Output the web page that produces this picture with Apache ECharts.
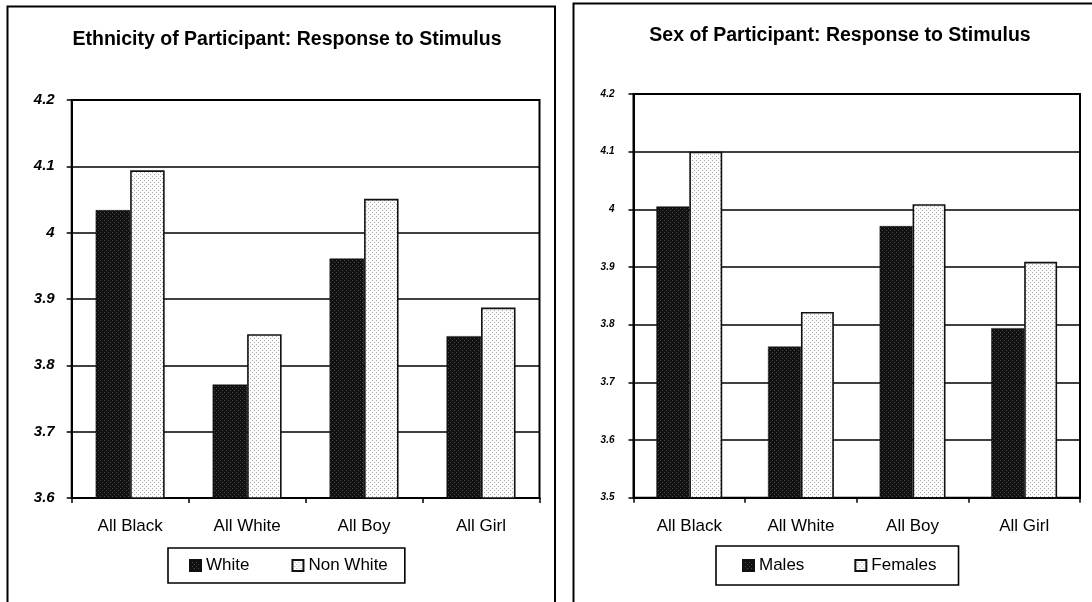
<!DOCTYPE html>
<html>
<head>
<meta charset="utf-8">
<script src="https://cdn.jsdelivr.net/npm/echarts@6/dist/echarts.min.js"></script>
<style>
  html, body { margin: 0; padding: 0; background: #fff; }
  #chart { width: 1092px; height: 602px; }
</style>
</head>
<body>
<div id="chart"></div>
<script>
// Categories shared by both panels
const categories = ['All Black', 'All White', 'All Boy', 'All Girl'];

// Ethnicity panel: mean response
const ethnicityWhite = [4.034, 3.771, 3.961, 3.844];
const ethnicityNonWhite = [4.094, 3.847, 4.051, 3.887];

// Sex panel: mean response
const sexMales = [4.005, 3.762, 3.971, 3.794];
const sexFemales = [4.100, 3.822, 4.009, 3.909];

// Value axis ranges
const ethnicityAxis = { min: 3.6, max: 4.2, interval: 0.1 };
const sexAxis = { min: 3.5, max: 4.2, interval: 0.1 };

// Stippled fills for the bars
function stipple(bg, dot) {
  const c = document.createElement('canvas');
  c.width = 4; c.height = 4;
  const g = c.getContext('2d');
  g.fillStyle = bg; g.fillRect(0, 0, 4, 4);
  g.fillStyle = dot;
  g.fillRect(0, 0, 1, 1);
  g.fillRect(2, 2, 1, 1);
  return { image: c, repeat: 'repeat' };
}
const darkFill = stipple('#111', '#4a4a4a');
const lightFill = stipple('#fcfcfc', '#a8a8a8');

const FONT = '"Liberation Sans", Arial, sans-serif';

const fmt = v => String(+(+v).toFixed(1));

function yAxisCfg(range, gridIndex, labelSize, margin) {
  return {
    type: 'value', gridIndex,
    min: range.min, max: range.max, interval: range.interval,
    axisLine: { show: true, lineStyle: { color: '#000', width: 2 } },
    axisTick: { show: true, length: 5, lineStyle: { color: '#000', width: 1.5 } },
    splitLine: { show: true, lineStyle: { color: '#000', width: 1.6 } },
    axisLabel: {
      formatter: fmt, margin,
      fontFamily: FONT, fontSize: labelSize, fontWeight: 'bold', fontStyle: 'italic', color: '#000'
    }
  };
}
function xAxisCfg(gridIndex) {
  return {
    type: 'category', gridIndex, data: categories,
    axisLine: { show: true, lineStyle: { color: '#000', width: 2 } },
    axisTick: { show: true, length: 5, lineStyle: { color: '#000', width: 1.5 } },
    axisLabel: { margin: 20, fontFamily: FONT, fontSize: 17, color: '#000' }
  };
}
function barSeries(name, data, idx, dark) {
  return {
    type: 'bar', name, data, xAxisIndex: idx, yAxisIndex: idx,
    barGap: '0%', barCategoryGap: '41%',
    itemStyle: dark
      ? { color: darkFill, borderColor: '#111', borderWidth: 0.5 }
      : { color: lightFill, borderColor: '#111', borderWidth: 1.6 }
  };
}
function legendCfg(names, left, top, padding, gap) {
  return {
    data: names, left, top, orient: 'horizontal', icon: 'rect',
    padding, itemGap: gap, itemWidth: 11, itemHeight: 11,
    borderColor: '#000', borderWidth: 1.6, borderRadius: 0,
    textStyle: { fontFamily: FONT, fontSize: 17, color: '#000' },
    selectedMode: false
  };
}

const chart = echarts.init(document.getElementById('chart'), null, { renderer: 'canvas' });
chart.setOption({
  animation: false,
  backgroundColor: '#fff',
  title: [
    { text: 'Ethnicity of Participant: Response to Stimulus', left: 282, top: 25, textAlign: 'center',
      textStyle: { fontFamily: FONT, fontSize: 19.5, fontWeight: 'bold', color: '#000' } },
    { text: 'Sex of Participant: Response to Stimulus', left: 835, top: 21, textAlign: 'center',
      textStyle: { fontFamily: FONT, fontSize: 19.5, fontWeight: 'bold', color: '#000' } }
  ],
  legend: [
    legendCfg(['White', 'Non White'], 168, 548, [9, 17, 9, 21], 42),
    legendCfg(['Males', 'Females'], 716, 546, [11, 22, 11, 26], 50)
  ],
  graphic: [
    { type: 'rect', shape: { x: 7.5, y: 6.5, width: 547.5, height: 700 },
      style: { fill: 'none', stroke: '#000', lineWidth: 2 }, silent: true },
    { type: 'rect', shape: { x: 573.5, y: 3.5, width: 600, height: 700 },
      style: { fill: 'none', stroke: '#000', lineWidth: 2 }, silent: true }
  ],
  grid: [
    { left: 71.7, top: 100, width: 467.8, height: 398, show: true, borderColor: '#000', borderWidth: 2, backgroundColor: 'transparent' },
    { left: 633.5, top: 94, width: 446.5, height: 403.7, show: true, borderColor: '#000', borderWidth: 2, backgroundColor: 'transparent' }
  ],
  xAxis: [xAxisCfg(0), xAxisCfg(1)],
  yAxis: [yAxisCfg(ethnicityAxis, 0, 15, 17), yAxisCfg(sexAxis, 1, 10, 19)],
  series: [
    barSeries('White', ethnicityWhite, 0, true),
    barSeries('Non White', ethnicityNonWhite, 0, false),
    barSeries('Males', sexMales, 1, true),
    barSeries('Females', sexFemales, 1, false)
  ]
});
</script>
</body>
</html>
